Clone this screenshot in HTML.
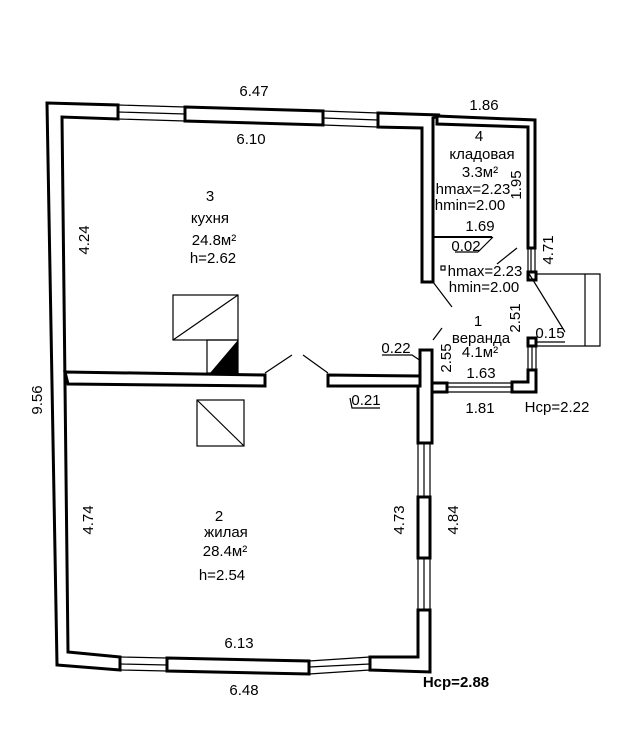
<!DOCTYPE html>
<html><head><meta charset="utf-8"><style>
html,body{margin:0;padding:0;background:#fff;}
svg{display:block;}
text{font-family:"Liberation Sans",sans-serif;font-size:15px;fill:#000;}
</style></head><body>
<svg width="620" height="750" viewBox="0 0 620 750" xmlns="http://www.w3.org/2000/svg">
<g fill="#fff" stroke="#000" stroke-width="3" stroke-linejoin="miter">
<polygon points="47,103 118,105 118,119 62,117 68,652 120,657 120,670 57,665"/>
<polygon points="185,107 323,111 323,125 185,121"/>
<polygon points="378,113 440,115 433,118 433,282 422,282 422,128 378,127"/>
<polygon points="437,116 535,120 535,248 528,248 528,127 437,124"/>
<rect x="528" y="272" width="8" height="8"/>
<rect x="528" y="338" width="8" height="8"/>
<rect x="432" y="383" width="15" height="9"/>
<polygon points="512,382 528,382 528,370 536,370 536,392 512,392"/>
<polygon points="420,350 432,350 432,443 430,443 418,443 418,386 420,386"/>
<rect x="418" y="497" width="12" height="61"/>
<polygon points="418,610 430,610 430,672 370,670 370,657 418,657"/>
<polygon points="167,658 309,661 309,674 167,671"/>
<polygon points="65,372 265,375 265,386 68,384"/>
<polygon points="328,375 420,376 420,386 328,386"/>
</g>
<g fill="none" stroke="#000" stroke-width="1.2">
<path d="M118,105 L185,107 M118,112 L185,114 M118,119 L185,121"/>
<path d="M323,111 L378,113 M323,118 L378,120 M323,125 L378,127"/>
<path d="M528,248 V272 M531,248 V272 M535,248 V272"/>
<path d="M528,346 V370 M532,346 V370 M536,346 V370"/>
<path d="M447,383 H512 M447,387 H512 M447,392 H512"/>
<path d="M418,443 V497 M424,443 V497 M430,443 V497"/>
<path d="M418,558 V610 M424,558 V610 M430,558 V610"/>
<path d="M120,657 L167,658 M120,664 L167,665 M120,670 L167,671"/>
<path d="M309,661 L370,657 M309,667 L370,664 M309,674 L370,670"/>
<path d="M536,274 H600 V346 H536 M585,274 V346"/>
<path d="M433,237 H492" stroke-width="2"/>
<path d="M493,237 L478,252 M455,252 H478"/>
<path d="M265,373 L292,355 M303,355 L328,373"/>
<path d="M433,282 L452,307 M442,328 L433,340 M528,272 L565,332"/>
<path d="M497,264 L517,248"/>
<path d="M536,342 L565,342"/>
<path d="M382,355 H412 L421,361"/>
<path d="M350,398 L352,408 H380"/>
<rect x="173" y="295" width="65" height="45"/>
<path d="M173,340 L238,295"/>
<rect x="207" y="340" width="31" height="33"/>
<rect x="197" y="400" width="47" height="46"/>
<path d="M197,400 L244,446"/>
</g>
<polygon points="238,340 238,373 210,373" fill="#000"/>
<rect x="441" y="266" width="4" height="4" fill="none" stroke="#000" stroke-width="1.2"/>
<g text-anchor="middle">
<text x="254" y="96">6.47</text>
<text x="251" y="144">6.10</text>
<text x="484" y="110">1.86</text>
<text x="210" y="201">3</text>
<text x="210" y="223">кухня</text>
<text x="214" y="245">24.8м²</text>
<text x="213" y="263">h=2.62</text>
<text x="479" y="141">4</text>
<text x="482" y="159">кладовая</text>
<text x="480" y="177">3.3м²</text>
<text x="473" y="194">hmax=2.23</text>
<text x="470" y="210">hmin=2.00</text>
<text x="480" y="231">1.69</text>
<text x="466" y="251">0.02</text>
<text x="485" y="276">hmax=2.23</text>
<text x="484" y="292">hmin=2.00</text>
<text x="478" y="326">1</text>
<text x="481" y="343">веранда</text>
<text x="480" y="357">4.1м²</text>
<text x="481" y="378">1.63</text>
<text x="396" y="353">0.22</text>
<text x="366" y="405">0.21</text>
<text x="480" y="413">1.81</text>
<text x="557" y="412">Hср=2.22</text>
<text x="550" y="338">0.15</text>
<text x="219" y="521">2</text>
<text x="226" y="537">жилая</text>
<text x="225" y="556">28.4м²</text>
<text x="222" y="580">h=2.54</text>
<text x="239" y="648">6.13</text>
<text x="244" y="695">6.48</text>
<text x="456" y="687" font-weight="bold">Hср=2.88</text>
<text transform="translate(42,400) rotate(-90)">9.56</text>
<text transform="translate(89,240) rotate(-90)">4.24</text>
<text transform="translate(93,520) rotate(-90)">4.74</text>
<text transform="translate(404,520) rotate(-90)">4.73</text>
<text transform="translate(458,520) rotate(-90)">4.84</text>
<text transform="translate(521,185) rotate(-90)">1.95</text>
<text transform="translate(553,250) rotate(-90)">4.71</text>
<text transform="translate(520,318) rotate(-90)">2.51</text>
<text transform="translate(451,358) rotate(-90)">2.55</text>
</g>
</svg>
</body></html>
